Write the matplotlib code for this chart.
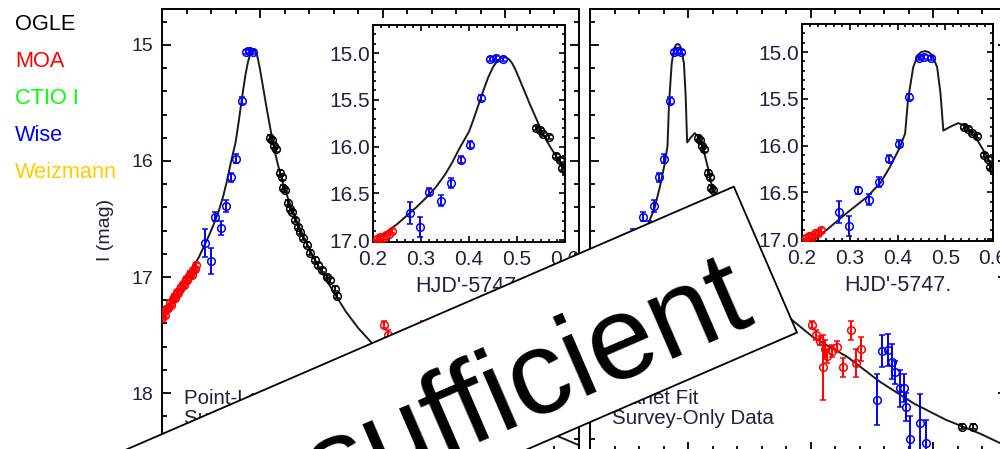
import matplotlib
matplotlib.use('Agg')
import matplotlib.pyplot as plt
from matplotlib.patches import Rectangle
from matplotlib.ticker import MultipleLocator, AutoMinorLocator

plt.rcParams['font.family'] = ['Liberation Sans', 'DejaVu Sans']

# OGLE photometry (HJD'-5747, I mag, error)
ogle_t = [0.540, 0.548, 0.555, 0.566, 0.581, 0.589, 0.594, 0.601, 0.614, 0.622, 0.630,
          0.642, 0.654, 0.663, 0.675, 0.691, 0.703, 0.724, 0.736, 0.752, 0.773, 0.785,
          0.805, 0.813, 1.616, 1.660]
ogle_m = [15.80, 15.82, 15.87, 15.90, 16.10, 16.14, 16.23, 16.25, 16.36, 16.41, 16.44,
          16.51, 16.57, 16.61, 16.66, 16.72, 16.79, 16.85, 16.90, 16.94, 17.00, 17.03,
          17.10, 17.16, 18.29, 18.29]
ogle_e = [0.02] * len(ogle_t)

# MOA photometry
moa_t = [0.100, 0.106, 0.112, 0.118, 0.124, 0.131, 0.137, 0.143, 0.149, 0.155, 0.161,
         0.167, 0.173, 0.179, 0.185, 0.191, 0.197, 0.203, 0.209, 0.215, 0.221, 0.227,
         0.233, 0.239,
         1.005, 1.022, 1.036, 1.048, 1.056, 1.068, 1.085, 1.105, 1.130, 1.165, 1.185, 1.205]
moa_m = [17.35, 17.31, 17.33, 17.28, 17.27, 17.22, 17.24, 17.19, 17.17, 17.18, 17.13,
         17.14, 17.10, 17.09, 17.06, 17.07, 17.02, 17.03, 16.99, 16.97, 16.98, 16.94,
         16.93, 16.90,
         17.41, 17.50, 17.55, 17.78, 17.62, 17.68, 17.64, 17.60, 17.78, 17.46, 17.74, 17.62]
moa_e = [0.02] * 24 + [0.03, 0.04, 0.04, 0.28, 0.08, 0.06, 0.05, 0.05, 0.08, 0.08, 0.12, 0.10]

# Wise photometry
wise_t = [0.277, 0.298, 0.317, 0.341, 0.362, 0.383, 0.403, 0.425, 0.444, 0.456, 0.470,
          1.270, 1.290, 1.315, 1.330, 1.345, 1.365, 1.380, 1.390, 1.405, 1.445, 1.470]
wise_m = [16.71, 16.86, 16.48, 16.58, 16.39, 16.14, 15.98, 15.48, 15.06, 15.05, 15.06,
          18.06, 17.64, 17.63, 17.73, 17.82, 17.96, 17.96, 18.12, 18.40, 18.26, 18.43]
wise_e = [0.12, 0.11, 0.04, 0.06, 0.05, 0.04, 0.04, 0.03, 0.02, 0.02, 0.02,
          0.22, 0.14, 0.14, 0.15, 0.10, 0.16, 0.12, 0.12, 0.20, 0.25, 0.20]

# point-lens model
pl_t = [0.10, 0.15, 0.20, 0.25, 0.29, 0.31, 0.33, 0.35, 0.365, 0.38, 0.39, 0.40, 0.41,
        0.42, 0.43, 0.44, 0.45, 0.458, 0.466, 0.472, 0.478, 0.484, 0.49, 0.497, 0.506,
        0.515, 0.527, 0.54, 0.55, 0.56, 0.57, 0.58, 0.59, 0.60, 0.62, 0.64, 0.66, 0.69,
        0.72, 0.76, 0.80, 0.85, 0.90, 0.956, 1.05, 1.2, 1.4, 1.6, 1.8]
pl_m = [17.35, 17.18, 17.02, 16.83, 16.65, 16.55, 16.44, 16.30, 16.17, 16.02, 15.93,
        15.84, 15.70, 15.55, 15.40, 15.26, 15.15, 15.09, 15.055, 15.045, 15.05, 15.07,
        15.11, 15.18, 15.29, 15.40, 15.55, 15.70, 15.82, 15.92, 16.01, 16.09, 16.17,
        16.24, 16.36, 16.47, 16.57, 16.71, 16.84, 16.99, 17.13, 17.30, 17.44, 17.57,
        17.66, 17.85, 18.07, 18.27, 18.45]

# planet model
pt_t = [0.10, 0.15, 0.20, 0.223, 0.252, 0.294, 0.336, 0.364, 0.384, 0.405, 0.416, 0.422,
        0.433, 0.443, 0.450, 0.458, 0.465, 0.472, 0.483, 0.49, 0.496, 0.51, 0.527, 0.546,
        0.567, 0.588, 0.598, 0.617, 0.70, 0.80, 0.90, 1.01, 1.15, 1.28, 1.42, 1.55, 1.69, 1.8]
pt_m = [17.35, 17.18, 17.05, 17.01, 16.90, 16.72, 16.55, 16.40, 16.23, 16.02, 15.87, 15.51,
        15.16, 15.03, 15.00, 14.99, 15.00, 15.03, 15.16, 15.44, 15.84, 15.80, 15.76, 15.80,
        15.94, 16.12, 16.23, 16.32, 16.72, 17.08, 17.33, 17.52, 17.69, 17.90, 18.09, 18.23,
        18.35, 18.46]

legend_names = ['OGLE', 'MOA', 'CTIO I', 'Wise', 'Weizmann']
legend_colors = ['black', '#ff0000', '#00ff00', '#0000ff', '#ffcc00']

txt_color = '#202040'


def draw_data(ax, mt, mm):
    ax.plot(mt, mm, color='#1a1a1a', lw=1.4, zorder=2)
    for t, m, e, c in [(moa_t, moa_m, moa_e, '#ff0000'),
                       (wise_t, wise_m, wise_e, '#0000ff'),
                       (ogle_t, ogle_m, ogle_e, 'black')]:
        ax.errorbar(t, m, yerr=e, fmt='o', ms=5.5, mfc='none', mec=c, mew=1.1,
                    ecolor=c, elinewidth=1.4, capsize=2, capthick=1.2, zorder=3)


def style_main(ax, labels):
    ax.set_xlim(0.1, 1.8)
    ax.set_ylim(18.5, 14.69)
    ax.xaxis.set_major_locator(MultipleLocator(0.5))
    ax.xaxis.set_minor_locator(MultipleLocator(0.1))
    ax.yaxis.set_major_locator(MultipleLocator(1))
    ax.yaxis.set_minor_locator(MultipleLocator(0.2))
    ax.tick_params(which='both', direction='in', top=True, right=True, width=1.3,
                   colors='black', labelcolor=txt_color)
    ax.tick_params(which='major', length=6.5, labelsize=14, pad=6)
    ax.tick_params(which='minor', length=3.6)
    ax.tick_params(axis='x', labelbottom=False)
    if not labels:
        ax.tick_params(axis='y', labelleft=False)
    for s in ax.spines.values():
        s.set_linewidth(1.4)


def style_inset(ax):
    ax.set_xlim(0.2, 0.6)
    ax.set_ylim(17.02, 14.7)
    ax.xaxis.set_major_locator(MultipleLocator(0.1))
    ax.xaxis.set_minor_locator(AutoMinorLocator(6))
    ax.yaxis.set_major_locator(MultipleLocator(0.5))
    ax.yaxis.set_minor_locator(AutoMinorLocator(5))
    ax.tick_params(which='both', direction='in', top=True, right=True, width=1.2,
                   colors='black', labelcolor=txt_color)
    ax.tick_params(which='major', length=4.5, labelsize=15)
    ax.tick_params(which='minor', length=2.3)
    ax.tick_params(axis='y', pad=2)
    ax.tick_params(axis='x', pad=6)
    ax.set_xlabel("HJD'-5747.", fontsize=15.5, color=txt_color, labelpad=5)
    for s in ax.spines.values():
        s.set_linewidth(1.4)


fig = plt.figure(figsize=(10, 4.49), dpi=100)

axL = fig.add_axes([0.162, -0.0045, 0.417, 0.9844])
axR = fig.add_axes([0.590, -0.0045, 0.417, 0.9844])
inL = fig.add_axes([0.373, 0.461, 0.192, 0.4833])
inR = fig.add_axes([0.802, 0.4633, 0.191, 0.4833])

draw_data(axL, pl_t, pl_m)
draw_data(inL, pl_t, pl_m)
draw_data(axR, pt_t, pt_m)
draw_data(inR, pt_t, pt_m)

style_main(axL, True)
style_main(axR, False)
style_inset(inL)
style_inset(inR)

axL.set_ylabel('I (mag)', fontsize=14, color=txt_color)
axL.yaxis.set_label_coords(-0.115, 0.5)

axL.text(0.053, 0.096, 'Point-Lens Fit\nSurvey-Only Data', transform=axL.transAxes,
         fontsize=14.8, color=txt_color, va='center', ha='left', linespacing=1.1)
axR.text(0.053, 0.096, 'Planet Fit\nSurvey-Only Data', transform=axR.transAxes,
         fontsize=14.8, color=txt_color, va='center', ha='left', linespacing=1.1)

# instrument key at the upper left
for i, (name, col) in enumerate(zip(legend_names, legend_colors)):
    fig.text(0.015, 1 - (30 + 37 * i) / 449, name, color=col, fontsize=15.7,
             va='baseline', ha='left')

# tilted stamp over the lower middle (positions in inches)
stamp = Rectangle((-0.29, -2.41), 9.0, 1.59, angle=23.4, transform=fig.dpi_scale_trans,
                  fc='white', ec='black', lw=1.3, zorder=9)
fig.add_artist(stamp)
fig.text(7.557, 1.308, 'Insufficient', transform=fig.dpi_scale_trans, fontsize=86,
         rotation=23.4, rotation_mode='anchor', ha='right', va='baseline',
         color='black', zorder=10)

fig.savefig('out.png', dpi=100)
